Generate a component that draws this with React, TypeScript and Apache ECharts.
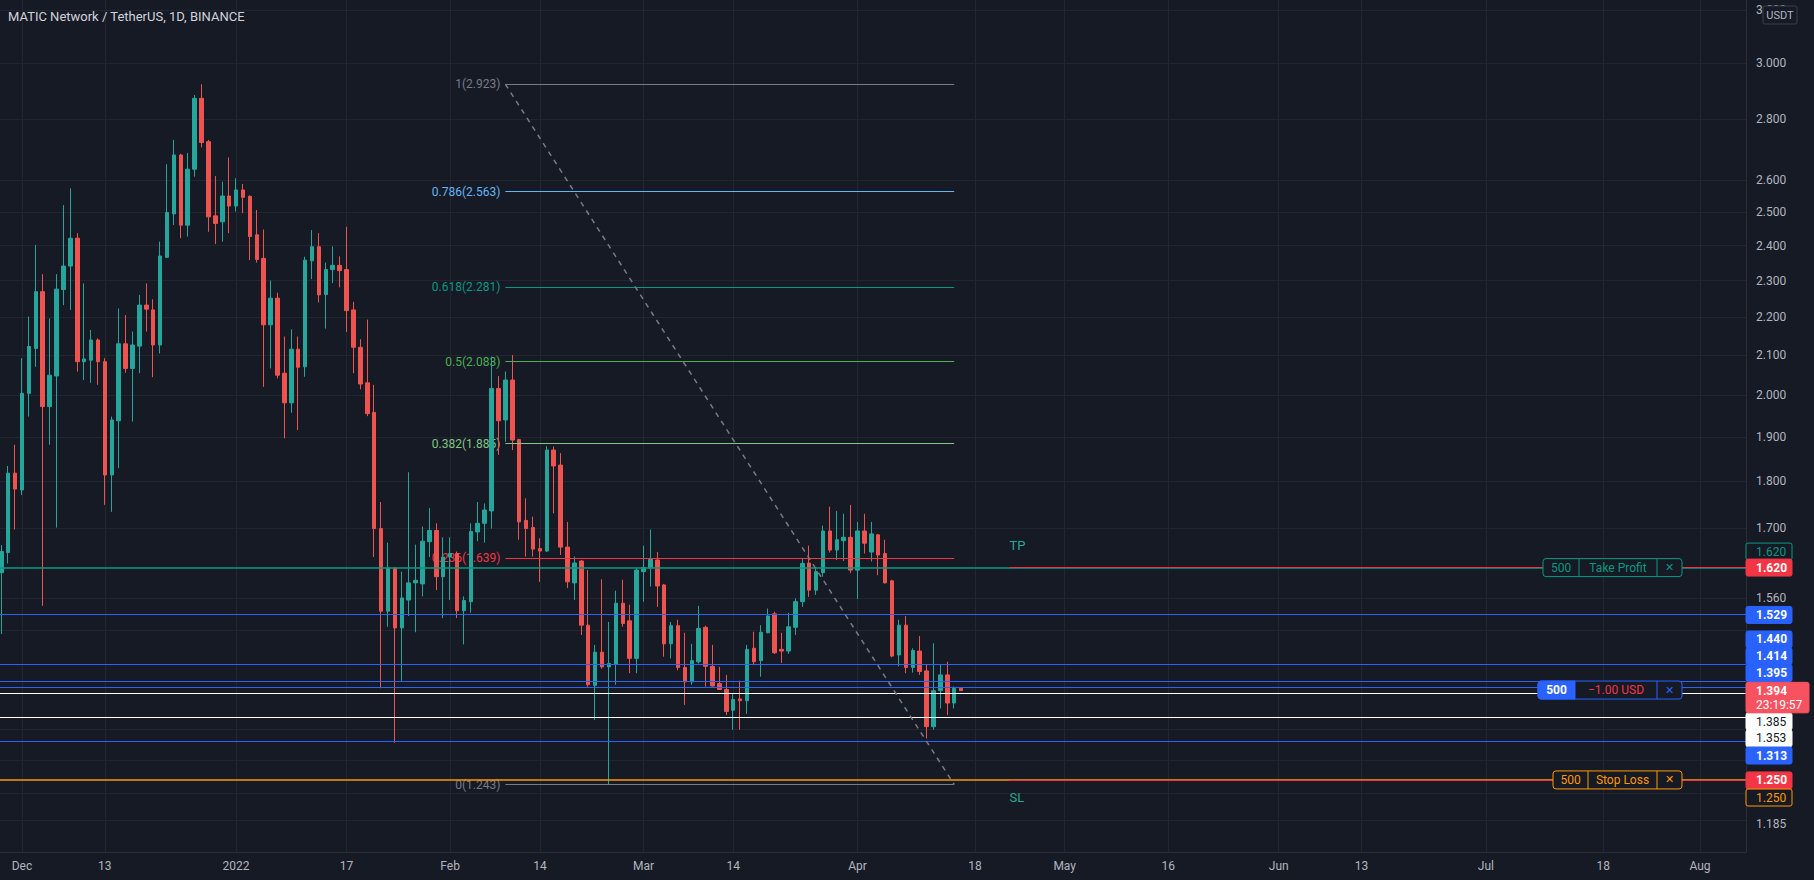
import React, { useEffect, useRef } from "react";
import * as echarts from "echarts";

// ---------------- data ----------------
const FIRST_DAY = "2021-11-28";
const opens = [
  1.610, 1.650, 1.818, 1.781, 2.004, 2.117, 2.269, 1.972, 2.047, 2.275,
  2.341, 2.422, 2.083, 2.087, 2.139, 2.083, 1.814, 1.938, 2.129, 2.066,
  2.123, 2.232, 2.219, 2.126, 2.366, 2.495, 2.681, 2.461, 2.635, 2.873,
  2.725, 2.489, 2.471, 2.550, 2.519, 2.569, 2.549, 2.432, 2.363, 2.179,
  2.251, 2.054, 1.981, 2.115, 2.070, 2.356, 2.397, 2.261, 2.331, 2.343,
  2.331, 2.219, 2.120, 2.030, 1.958, 1.699, 1.536, 1.619, 1.505, 1.557,
  1.590, 1.588, 1.672, 1.695, 1.602, 1.641, 1.648, 1.537, 1.554, 1.692,
  1.710, 1.736, 2.016, 1.940, 2.037, 1.894, 1.716, 1.701, 1.658, 1.653,
  1.870, 1.836, 1.661, 1.590, 1.633, 1.510, 1.403, 1.461, 1.435, 1.440,
  1.551, 1.518, 1.450, 1.612, 1.619, 1.635, 1.586, 1.476, 1.509, 1.434,
  1.409, 1.444, 1.506, 1.436, 1.406, 1.396, 1.361, 1.380, 1.377, 1.468,
  1.446, 1.496, 1.531, 1.466, 1.463, 1.506, 1.554, 1.629, 1.576, 1.610,
  1.694, 1.655, 1.674, 1.681, 1.615, 1.694, 1.651, 1.686, 1.648, 1.594,
  1.456, 1.510, 1.434, 1.463, 1.428, 1.334, 1.394, 1.421, 1.373, 1.398,
];
const highs = [
  1.665, 1.834, 1.882, 2.092, 2.201, 2.402, 2.318, 2.196, 2.318, 2.522,
  2.574, 2.437, 2.292, 2.165, 2.143, 2.092, 1.948, 2.223, 2.205, 2.161,
  2.260, 2.292, 2.248, 2.412, 2.651, 2.731, 2.685, 2.688, 2.885, 2.923,
  2.731, 2.613, 2.595, 2.673, 2.606, 2.588, 2.552, 2.507, 2.448, 2.300,
  2.266, 2.148, 2.167, 2.148, 2.368, 2.446, 2.437, 2.351, 2.398, 2.369,
  2.456, 2.241, 2.141, 2.193, 2.025, 1.755, 1.670, 1.620, 1.612, 1.820,
  1.666, 1.703, 1.742, 1.710, 1.681, 1.681, 1.652, 1.564, 1.710, 1.755,
  1.752, 2.096, 2.047, 2.058, 2.100, 1.896, 1.763, 1.724, 1.679, 1.879,
  1.878, 1.863, 1.713, 1.642, 1.635, 1.615, 1.474, 1.597, 1.516, 1.575,
  1.596, 1.548, 1.619, 1.664, 1.697, 1.651, 1.588, 1.516, 1.520, 1.496,
  1.476, 1.546, 1.509, 1.474, 1.435, 1.421, 1.388, 1.411, 1.474, 1.498,
  1.510, 1.541, 1.535, 1.496, 1.533, 1.560, 1.638, 1.664, 1.620, 1.705,
  1.745, 1.736, 1.730, 1.749, 1.713, 1.730, 1.713, 1.688, 1.676, 1.596,
  1.520, 1.527, 1.468, 1.490, 1.440, 1.477, 1.440, 1.444, 1.401, 1.400,
];
const lows = [
  1.494, 1.628, 1.697, 1.770, 1.948, 2.070, 1.546, 1.882, 1.701, 2.232,
  2.219, 2.058, 2.037, 2.030, 2.025, 1.749, 1.734, 1.829, 2.055, 1.936,
  2.054, 2.161, 2.044, 2.104, 2.366, 2.461, 2.422, 2.427, 2.611, 2.706,
  2.441, 2.405, 2.412, 2.437, 2.502, 2.497, 2.358, 2.351, 2.020, 2.066,
  2.041, 1.897, 1.957, 1.916, 2.045, 2.304, 2.239, 2.169, 2.293, 2.281,
  2.160, 2.054, 2.014, 1.949, 1.641, 1.398, 1.507, 1.308, 1.411, 1.527,
  1.497, 1.564, 1.641, 1.576, 1.523, 1.557, 1.523, 1.475, 1.533, 1.673,
  1.670, 1.699, 1.859, 1.889, 1.870, 1.676, 1.642, 1.642, 1.592, 1.651,
  1.731, 1.645, 1.580, 1.557, 1.492, 1.401, 1.345, 1.432, 1.243, 1.404,
  1.507, 1.424, 1.424, 1.554, 1.583, 1.544, 1.453, 1.450, 1.429, 1.370,
  1.404, 1.441, 1.401, 1.401, 1.395, 1.353, 1.329, 1.329, 1.355, 1.438,
  1.418, 1.495, 1.458, 1.442, 1.458, 1.492, 1.544, 1.563, 1.567, 1.602,
  1.650, 1.635, 1.633, 1.609, 1.559, 1.648, 1.632, 1.605, 1.589, 1.452,
  1.436, 1.424, 1.425, 1.421, 1.315, 1.329, 1.364, 1.353, 1.364, 1.394,
];
const closes = [
  1.652, 1.818, 1.783, 2.004, 2.122, 2.269, 1.972, 2.049, 2.276, 2.341,
  2.422, 2.083, 2.090, 2.139, 2.083, 1.814, 1.940, 2.129, 2.066, 2.126,
  2.232, 2.221, 2.126, 2.370, 2.499, 2.681, 2.461, 2.635, 2.873, 2.722,
  2.486, 2.466, 2.550, 2.519, 2.569, 2.546, 2.427, 2.360, 2.179, 2.251,
  2.049, 1.981, 2.115, 2.069, 2.358, 2.397, 2.260, 2.331, 2.343, 2.328,
  2.217, 2.120, 2.027, 1.955, 1.699, 1.536, 1.619, 1.505, 1.561, 1.590,
  1.595, 1.673, 1.695, 1.602, 1.641, 1.648, 1.537, 1.556, 1.693, 1.710,
  1.738, 2.016, 1.938, 2.037, 1.893, 1.713, 1.699, 1.657, 1.653, 1.870,
  1.834, 1.661, 1.592, 1.629, 1.510, 1.404, 1.461, 1.435, 1.441, 1.551,
  1.513, 1.450, 1.615, 1.620, 1.636, 1.584, 1.476, 1.509, 1.434, 1.409,
  1.446, 1.504, 1.436, 1.402, 1.396, 1.359, 1.379, 1.377, 1.466, 1.444,
  1.497, 1.527, 1.460, 1.463, 1.507, 1.554, 1.628, 1.576, 1.612, 1.694,
  1.655, 1.676, 1.681, 1.615, 1.694, 1.669, 1.688, 1.645, 1.590, 1.454,
  1.510, 1.434, 1.464, 1.427, 1.334, 1.394, 1.421, 1.373, 1.398, 1.394,
];

const priceTicks = [3.2, 3.0, 2.8, 2.6, 2.5, 2.4, 2.3, 2.2, 2.1, 2.0, 1.9, 1.8, 1.7, 1.62, 1.56, 1.5, 1.44, 1.385, 1.33, 1.28, 1.23, 1.185];
const timeTickDates = [
  "2021-12-01", "2021-12-13", "2022-01-01", "2022-01-17", "2022-02-01", "2022-02-14",
  "2022-03-01", "2022-03-14", "2022-04-01", "2022-04-18", "2022-05-01", "2022-05-16",
  "2022-06-01", "2022-06-13", "2022-07-01", "2022-07-18", "2022-08-01",
];
const timeTickLabels = ["Dec", "13", "2022", "17", "Feb", "14", "Mar", "14", "Apr", "18", "May", "16", "Jun", "13", "Jul", "18", "Aug"];

const fibRatios = [1, 0.786, 0.618, 0.5, 0.382, 0.236, 0];
const fibColors = ["#787b86", "#64b5f6", "#089981", "#4caf50", "#81c784", "#f23645", "#787b86"];
const FIB_HIGH = 2.923;
const FIB_LOW = 1.243;
const FIB_FROM = "2022-02-09";
const FIB_TO = "2022-04-15";

const TAKE_PROFIT = 1.62;
const STOP_LOSS = 1.25;
const POSITION_PRICE = 1.395;
const LAST_PRICE = 1.394;
const blueLevels = [1.529, 1.44, 1.414, 1.395, 1.313];
const whiteLevels = [1.385, 1.353];
const RAY_FROM = "2022-04-23";
const VIEW_FROM = "2021-11-27T19:30:00Z";
const VIEW_TO = "2022-08-07T16:05:00Z";
const PRICE_MIN = 1.1447;
const PRICE_MAX = 3.2396;

// ---------------- style ----------------
const BG = "#161a25";
const GRID = "#222631";
const AXIS = "#2a2e39";
const TEXT = "#b2b5be";
const TITLE = "#d1d4dc";
const UP = "#26a69a";
const DOWN = "#ef5350";
const BLUE = "#2962ff";
const GREEN = "#089981";
const RED = "#f23645";
const ORANGE = "#ff9800";
const FONT = "Roboto, 'Noto Sans', sans-serif";

const DAY = 86400000;
const ts = (s: string) => Date.parse(s.length === 10 ? s + "T00:00:00Z" : s);

function buildOption() {
  const t0 = ts(FIRST_DAY);
  const candleData = opens.map((o, i) => [t0 + i * DAY, o, closes[i], lows[i], highs[i]]);
  const xMax = ts(VIEW_TO);

  const gridLines: any[] = [
    ...priceTicks.map((v) => ({ yAxis: v })),
    ...timeTickDates.map((d) => ({ xAxis: ts(d) })),
  ];

  const level = (v: number, color: string, width = 1) => ({ yAxis: v, lineStyle: { color, width, type: "solid" } });
  const seg = (t1: number, v1: number, t2: number, v2: number, style: any) => [
    { coord: [t1, v1], lineStyle: style },
    { coord: [t2, v2] },
  ];

  const fFrom = ts(FIB_FROM);
  const fTo = ts(FIB_TO);
  const fibLines = fibRatios.map((r, i) =>
    seg(fFrom, FIB_LOW + r * (FIB_HIGH - FIB_LOW), fTo, FIB_LOW + r * (FIB_HIGH - FIB_LOW), {
      color: fibColors[i], width: 1, type: "solid",
    })
  );
  const rayT = ts(RAY_FROM);

  const levels: any[] = [
    level(TAKE_PROFIT, GREEN, 1.6),
    level(STOP_LOSS, ORANGE, 1.6),
    ...blueLevels.map((v) => level(v, BLUE, 1)),
    ...whiteLevels.map((v) => level(v, "#ffffff", 1)),
    seg(rayT, TAKE_PROFIT, xMax, TAKE_PROFIT, { color: RED, width: 1, type: "solid" }),
    seg(rayT, STOP_LOSS, xMax, STOP_LOSS, { color: RED, width: 1, type: "solid" }),
    ...fibLines,
    seg(fFrom, FIB_HIGH, fTo, FIB_LOW, { color: "#787b86", width: 1.5, type: [5, 5] }),
  ];

  return {
    animation: false,
    backgroundColor: BG,
    grid: { left: 0, right: 68, top: 0, bottom: 28, containLabel: false },
    xAxis: {
      type: "time",
      min: ts(VIEW_FROM),
      max: xMax,
      axisLine: { show: true, lineStyle: { color: AXIS } },
      axisTick: { show: false },
      axisLabel: { show: false },
      splitLine: { show: false },
    },
    yAxis: {
      type: "log",
      logBase: 10,
      min: PRICE_MIN,
      max: PRICE_MAX,
      position: "right",
      axisLine: { show: true, lineStyle: { color: AXIS } },
      axisTick: { show: false },
      axisLabel: { show: false },
      splitLine: { show: false },
      minorTick: { show: false },
      minorSplitLine: { show: false },
    },
    series: [
      {
        type: "line",
        data: [],
        silent: true,
        z: 1,
        markLine: {
          silent: true,
          z: 1,
          symbol: ["none", "none"],
          label: { show: false },
          emphasis: { disabled: true },
          lineStyle: { color: GRID, width: 1, type: "solid" },
          data: gridLines,
        },
      },
      {
        type: "candlestick",
        data: candleData,
        encode: { x: 0, y: [1, 2, 3, 4] },
        barWidth: 4,
        silent: true,
        z: 2,
        itemStyle: { color: UP, color0: DOWN, borderColor: UP, borderColor0: DOWN, borderWidth: 1 },
      },
      {
        type: "line",
        data: [],
        silent: true,
        z: 5,
        markLine: {
          silent: true,
          z: 5,
          symbol: ["none", "none"],
          label: { show: false },
          emphasis: { disabled: true },
          data: levels,
        },
      },
    ],
  };
}

function buildGraphics(chart: any) {
  const X = (t: number) => chart.convertToPixel({ xAxisIndex: 0 }, t) as number;
  const Y = (v: number) => chart.convertToPixel({ yAxisIndex: 0 }, v) as number;
  const els: any[] = [];
  const text = (x: number, y: number, s: string, fill: string, o: any = {}) =>
    els.push({
      type: "text",
      x,
      y,
      z: o.z ?? 10,
      silent: true,
      style: {
        text: s,
        fill,
        fontSize: o.size ?? 12,
        fontFamily: FONT,
        fontWeight: o.weight ?? "normal",
        align: o.align ?? "left",
        textAlign: o.align ?? "left",
        verticalAlign: "middle",
        textVerticalAlign: "middle",
      },
    });
  const rect = (x: number, y: number, w: number, h: number, style: any, z = 11, r: any = 0) =>
    els.push({ type: "rect", z, silent: true, shape: { x, y, width: w, height: h, r }, style });
  const vline = (x: number, y1: number, y2: number, stroke: string, z = 12) =>
    els.push({ type: "line", z, silent: true, shape: { x1: x, y1, x2: x, y2 }, style: { stroke, lineWidth: 1 } });

  // title
  text(8, 16, "MATIC Network / TetherUS, 1D, BINANCE", TITLE, { size: 13 });

  // time axis labels
  timeTickDates.forEach((d, i) => text(X(ts(d)), 866, timeTickLabels[i], TEXT, { align: "center" }));

  // price axis tags (shift = label stacking on the price scale)
  const tags: { v: number; shift: number; fill: string; stroke: string; color: string; bold: boolean }[] = [
    { v: TAKE_PROFIT, shift: -16, fill: BG, stroke: GREEN, color: GREEN, bold: false },
    { v: TAKE_PROFIT, shift: 0, fill: RED, stroke: RED, color: "#ffffff", bold: true },
    { v: blueLevels[0], shift: 0, fill: BLUE, stroke: BLUE, color: "#ffffff", bold: true },
    { v: blueLevels[1], shift: -24.6, fill: BLUE, stroke: BLUE, color: "#ffffff", bold: true },
    { v: blueLevels[2], shift: -22.8, fill: BLUE, stroke: BLUE, color: "#ffffff", bold: true },
    { v: blueLevels[3], shift: -17, fill: BLUE, stroke: BLUE, color: "#ffffff", bold: true },
    { v: whiteLevels[0], shift: 25.6, fill: "#ffffff", stroke: "#ffffff", color: "#131722", bold: false },
    { v: whiteLevels[1], shift: 23.2, fill: "#ffffff", stroke: "#ffffff", color: "#131722", bold: false },
    { v: blueLevels[4], shift: 15.9, fill: BLUE, stroke: BLUE, color: "#ffffff", bold: true },
    { v: STOP_LOSS, shift: 0.5, fill: RED, stroke: RED, color: "#ffffff", bold: true },
    { v: STOP_LOSS, shift: 17.6, fill: BG, stroke: ORANGE, color: ORANGE, bold: false },
  ];
  const ly = Y(LAST_PRICE) - 8.3;
  // merged vertical spans covered by the axis tags
  const spans: [number, number][] = tags.map((t) => [Y(t.v) + t.shift - 8.5, Y(t.v) + t.shift + 8.5] as [number, number]);
  spans.push([ly, ly + 30.5]);
  spans.sort((a, b) => a[0] - b[0]);
  const merged: [number, number][] = [];
  spans.forEach((s) => {
    const last = merged[merged.length - 1];
    if (last && s[0] <= last[1] + 1.5) last[1] = Math.max(last[1], s[1]);
    else merged.push([s[0], s[1]]);
  });

  // price axis tick labels (those hidden behind the tags are not drawn)
  priceTicks.forEach((v) => {
    const y = Y(v);
    const hidden = merged.some(([a, b]) => y + 5 > a && y - 5 < b && y > a - 2 && y < b + 2);
    if (!hidden) text(1756, y, v.toFixed(3), TEXT);
  });
  rect(1763, 6, 34, 18, { fill: BG, stroke: "#3a3e4a", lineWidth: 1 }, 11, 2);
  text(1780, 15.5, "USDT", TEXT, { size: 11, align: "center", z: 12 });

  // fib labels
  const fx = X(ts(FIB_FROM)) - 5;
  fibRatios.forEach((r, i) => {
    const lv = FIB_LOW + r * (FIB_HIGH - FIB_LOW);
    text(fx, Y(lv), `${r}(${lv.toFixed(3)})`, fibColors[i], { align: "right", z: 1 });
  });

  // TP / SL notes
  const rx = X(ts(RAY_FROM));
  text(rx, Y(TAKE_PROFIT) - 22, "TP", "#22ab94", { size: 13 });
  text(rx, Y(STOP_LOSS) + 18, "SL", "#22ab94", { size: 13 });

  // order boxes
  const H = 18;
  const box = (yc: number, left: number, sep1: number, color: string, label: string, labelColor: string, filled: boolean) => {
    const right = 1682;
    const sep2 = 1657;
    rect(left, yc - H / 2, right - left, H, { fill: BG, stroke: color, lineWidth: 1 }, 11, 3);
    if (filled) rect(left, yc - H / 2, sep1 - left, H, { fill: color, stroke: color, lineWidth: 1 }, 11, [3, 0, 0, 3]);
    else vline(sep1, yc - H / 2, yc + H / 2, color);
    vline(sep2, yc - H / 2, yc + H / 2, color);
    text((left + sep1) / 2, yc, "500", filled ? "#ffffff" : color, { align: "center", z: 13, weight: filled ? "bold" : "normal" });
    text((sep1 + sep2) / 2, yc, label, labelColor, { align: "center", z: 13 });
    text((sep2 + right) / 2, yc, "✕", color, { align: "center", z: 13, size: 11 });
  };
  box(Y(TAKE_PROFIT), 1543, 1579, GREEN, "Take Profit", GREEN, false);
  box(Y(POSITION_PRICE), 1538, 1575, BLUE, "−1.00 USD", RED, true);
  box(Y(STOP_LOSS), 1553, 1588, ORANGE, "Stop Loss", ORANGE, false);

  // draw tags
  tags.forEach((t) => {
    const yc = Y(t.v) + t.shift;
    rect(1746, yc - 8.5, 46, 17, { fill: t.fill, stroke: t.stroke, lineWidth: 1 }, 11, 2);
    text(1756, yc, t.v.toFixed(3), t.color, { z: 12, weight: t.bold ? "bold" : "normal" });
  });
  rect(1746, ly, 63, 30.5, { fill: "#f7525f", stroke: "#f7525f", lineWidth: 1 }, 11, 2);
  text(1756, ly + 8.5, LAST_PRICE.toFixed(3), "#ffffff", { z: 12, weight: "bold" });
  text(1756, ly + 23, "23:19:57", "#ffffff", { z: 12 });

  return els;
}

export default function App() {
  const ref = useRef<HTMLDivElement>(null);
  useEffect(() => {
    document.body.style.margin = "0";
    document.body.style.background = BG;
    const chart = echarts.init(ref.current!, null, { renderer: "svg" });
    chart.setOption(buildOption() as any);
    chart.setOption({ graphic: { elements: buildGraphics(chart) } } as any);
    return () => chart.dispose();
  }, []);
  return <div ref={ref} style={{ position: "absolute", left: 0, top: 0, width: 1814, height: 880 }} />;
}
